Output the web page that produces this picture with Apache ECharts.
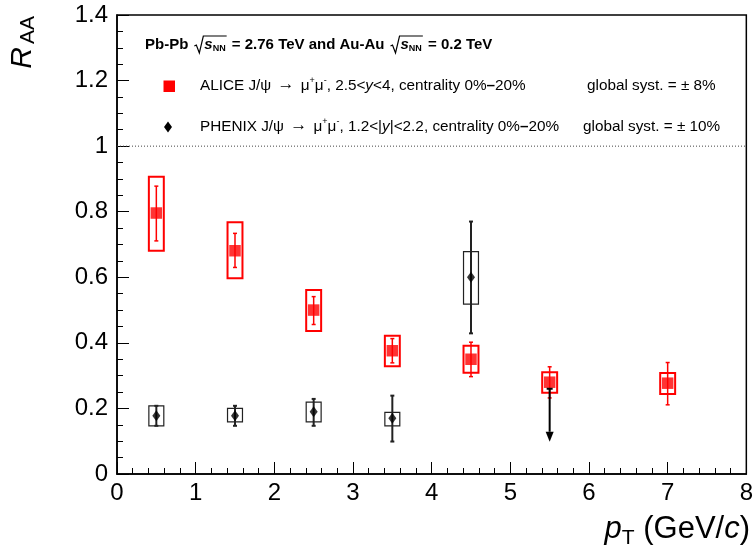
<!DOCTYPE html>
<html><head><meta charset="utf-8">
<script src="https://cdn.jsdelivr.net/npm/echarts@6/dist/echarts.min.js"></script>
<style>html,body{margin:0;padding:0;background:#fff}#c{width:756px;height:554px}</style>
</head><body><div id="c"></div>
<script>
// ---- data ----
const alicePt = [0.5, 1.5, 2.5, 3.5, 4.5, 5.5, 7.0];
const aliceRaa = [0.796, 0.681, 0.500, 0.376, 0.350, 0.280, 0.277];
const aliceStatLow = [0.711, 0.630, 0.456, 0.339, 0.297, 0.232, 0.211];
const aliceStatHigh = [0.878, 0.734, 0.541, 0.413, 0.402, 0.327, 0.340];
const aliceSystLow = [0.681, 0.597, 0.436, 0.329, 0.309, 0.248, 0.244];
const aliceSystHigh = [0.907, 0.768, 0.561, 0.422, 0.391, 0.310, 0.308];

const phenixPt = [0.5, 1.5, 2.5, 3.5, 4.5];
const phenixRaa = [0.178, 0.178, 0.190, 0.170, 0.600];
const phenixStatLow = [0.147, 0.147, 0.147, 0.099, 0.429];
const phenixStatHigh = [0.208, 0.208, 0.229, 0.239, 0.770];
const phenixSystLow = [0.147, 0.159, 0.159, 0.147, 0.518];
const phenixSystHigh = [0.208, 0.200, 0.219, 0.188, 0.678];

const phenixLimitPt = [5.5];
const phenixLimitRaa = [0.26];

const referenceLine = [[0, 1], [8, 1]];
const xTickLabels = ['0', '1', '2', '3', '4', '5', '6', '7', '8'];
const yTickLabels = ['0', '0.2', '0.4', '0.6', '0.8', '1', '1.2', '1.4'];
const systHalfWidth = 0.095;

// ---- helpers ----
const FONT = '"Liberation Sans", Arial, Helvetica, sans-serif';
const mctx = document.createElement('canvas').getContext('2d');
function fontStr(r) { return (r.italic ? 'italic ' : '') + (r.bold ? 'bold ' : '') + r.size + 'px ' + FONT; }
function runsWidth(runs) {
  let w = 0;
  runs.forEach(r => {
    if (r.gap) { w += r.gap; return; }
    if (r.sqrtStart) { w += 10; return; }
    if (r.sqrtEnd) { w += 2; return; }
    mctx.font = fontStr(r); w += mctx.measureText(r.t).width;
  });
  return w;
}
function layoutRuns(x0, cy, runs, out) {
  let x = x0, sq = null;
  runs.forEach(r => {
    if (r.gap) { x += r.gap; return; }
    if (r.sqrtStart) { sq = { x: x }; x += 10; return; }
    if (r.sqrtEnd) {
      const top = cy - 9;
      out.push({ type: 'polyline', silent: true,
        shape: { points: [[sq.x, cy + 1], [sq.x + 2, cy], [sq.x + 5, cy + 8], [sq.x + 9, top], [x + 1, top]] },
        style: { stroke: '#000', lineWidth: 1.2, fill: null } });
      x += 2; return;
    }
    const f = fontStr(r);
    mctx.font = f;
    const w = mctx.measureText(r.t).width;
    out.push({ type: 'text', silent: true, x: x, y: cy + (r.dy || 0),
      style: { text: r.t, font: f, fill: '#000', align: 'left', verticalAlign: 'middle', textAlign: 'left', textVerticalAlign: 'middle' } });
    x += w;
  });
  return x;
}

function errorRenderer(color, boxLW, barLW) {
  return function (params, api) {
    const x = api.value(0);
    const sLo = api.value(2), sHi = api.value(3), lo = api.value(4), hi = api.value(5);
    const a = api.coord([x - systHalfWidth, sHi]);
    const b = api.coord([x + systHalfWidth, sLo]);
    const t = api.coord([x, hi]);
    const d = api.coord([x, lo]);
    return { type: 'group', children: [
      { type: 'rect', shape: { x: a[0], y: a[1], width: b[0] - a[0], height: b[1] - a[1] },
        style: { fill: null, stroke: color, lineWidth: boxLW } },
      { type: 'line', shape: { x1: t[0], y1: t[1], x2: d[0], y2: d[1] }, style: { stroke: color, lineWidth: barLW } },
      { type: 'line', shape: { x1: t[0] - 2, y1: t[1], x2: t[0] + 2, y2: t[1] }, style: { stroke: color, lineWidth: barLW } },
      { type: 'line', shape: { x1: d[0] - 2, y1: d[1], x2: d[0] + 2, y2: d[1] }, style: { stroke: color, lineWidth: barLW } }
    ] };
  };
}
function limitRenderer(params, api) {
  const p = api.coord([api.value(0), api.value(1)]);
  const len = 53, head = 10;
  return { type: 'group', children: [
    { type: 'line', shape: { x1: p[0] - 3, y1: p[1], x2: p[0] + 3, y2: p[1] }, style: { stroke: '#000', lineWidth: 2 } },
    { type: 'line', shape: { x1: p[0], y1: p[1], x2: p[0], y2: p[1] + len - head }, style: { stroke: '#000', lineWidth: 2 } },
    { type: 'polygon', shape: { points: [[p[0] - 4, p[1] + len - head], [p[0] + 4, p[1] + len - head], [p[0], p[1] + len]] },
      style: { fill: '#000' } }
  ] };
}

// ---- text annotations ----
const graphics = [];
const S = 15.3;
layoutRuns(145, 45, [
  { t: 'Pb-Pb', size: 15, bold: true }, { gap: 6 },
  { sqrtStart: true }, { t: 's', size: 15, bold: true, italic: true }, { t: 'NN', size: 9, bold: true, dy: 4 }, { sqrtEnd: true },
  { t: ' = 2.76 TeV and Au-Au', size: 15, bold: true }, { gap: 6 },
  { sqrtStart: true }, { t: 's', size: 15, bold: true, italic: true }, { t: 'NN', size: 9, bold: true, dy: 4 }, { sqrtEnd: true },
  { t: ' = 0.2 TeV', size: 15, bold: true }
], graphics);

layoutRuns(200, 86, [
  { t: 'ALICE J/ψ ', size: S }, { gap: 2 }, { t: '→', size: 17, dy: -2 }, { gap: 2 }, { t: ' μ', size: S }, { t: '+', size: 9, dy: -5 },
  { t: 'μ', size: S }, { t: '-', size: 9, dy: -5 }, { t: ', 2.5<', size: S }, { t: 'y', size: S, italic: true },
  { t: '<4, centrality 0%', size: S }, { t: '–', size: S, bold: true }, { t: '20%', size: S }
], graphics);
layoutRuns(587, 86, [{ t: 'global syst. = ± 8%', size: S }], graphics);

layoutRuns(200, 127, [
  { t: 'PHENIX J/ψ ', size: S }, { gap: 2 }, { t: '→', size: 17, dy: -2 }, { gap: 2 }, { t: ' μ', size: S }, { t: '+', size: 9, dy: -5 },
  { t: 'μ', size: S }, { t: '-', size: 9, dy: -5 }, { t: ', 1.2<|', size: S }, { t: 'y', size: S, italic: true },
  { t: '|<2.2, centrality 0%', size: S }, { t: '–', size: S, bold: true }, { t: '20%', size: S }
], graphics);
layoutRuns(583, 127, [{ t: 'global syst. = ± 10%', size: S }], graphics);

// legend markers
graphics.push({ type: 'rect', silent: true, shape: { x: 163.5, y: 80.5, width: 11.5, height: 11.5 }, style: { fill: '#ff0000' } });
graphics.push({ type: 'polygon', silent: true, shape: { points: [[168, 121.5], [172, 127], [168, 132.5], [164, 127]] }, style: { fill: '#000' } });

// axis titles
graphics.push({ type: 'text', silent: true, x: 23, y: 47, rotation: Math.PI / 2,
  style: { text: 'R', font: 'italic 30px ' + FONT, fill: '#000', align: 'right', verticalAlign: 'middle', textAlign: 'right', textVerticalAlign: 'middle' } });
graphics.push({ type: 'text', silent: true, x: 28, y: 16, rotation: Math.PI / 2,
  style: { text: 'AA', font: '21px ' + FONT, fill: '#000', align: 'right', verticalAlign: 'middle', textAlign: 'right', textVerticalAlign: 'middle' } });

const xTitleRuns = [
  { t: 'p', size: 31, italic: true }, { t: 'T', size: 21, dy: 9 }, { t: ' (GeV/', size: 31 },
  { t: 'c', size: 31, italic: true }, { t: ')', size: 31 }
];
layoutRuns(750 - runsWidth(xTitleRuns), 529, xTitleRuns, graphics);

// ---- chart ----
const chart = echarts.init(document.getElementById('c'), null, { renderer: 'canvas' });
const axisCommon = {
  axisLine: { show: true, lineStyle: { color: '#000', width: 1.5 } },
  axisTick: { show: true, inside: true, length: 12, lineStyle: { color: '#000', width: 1 } },
  minorTick: { show: true, length: 6, lineStyle: { color: '#000', width: 1 } },
  splitLine: { show: false },
  minorSplitLine: { show: false }
};
chart.setOption({
  animation: false,
  backgroundColor: '#fff',
  grid: { left: 117, right: 8, top: 15, bottom: 80, show: true, borderColor: '#000', borderWidth: 1.5, backgroundColor: 'transparent' },
  xAxis: Object.assign({}, axisCommon, {
    type: 'value', min: 0, max: 8, interval: 1,
    minorTick: Object.assign({}, axisCommon.minorTick, { splitNumber: 5 }),
    axisLabel: { show: true, margin: 7, fontSize: 24, color: '#000', fontFamily: FONT,
      formatter: (v, i) => xTickLabels[Math.round(v)] }
  }),
  yAxis: Object.assign({}, axisCommon, {
    type: 'value', min: 0, max: 1.4, interval: 0.2,
    minorTick: Object.assign({}, axisCommon.minorTick, { splitNumber: 4 }),
    axisLabel: { show: true, margin: 9, fontSize: 24, color: '#000', fontFamily: FONT,
      formatter: (v) => yTickLabels[Math.round(v / 0.2)] }
  }),
  graphic: graphics,
  series: [
    { type: 'line', data: referenceLine, symbol: 'none', silent: true,
      lineStyle: { color: '#444', width: 1, type: [1, 2] }, z: 1 },
    { type: 'custom', name: 'PHENIX syst', renderItem: errorRenderer('#222', 1.2, 2),
      data: phenixPt.map((x, i) => [x, phenixRaa[i], phenixSystLow[i], phenixSystHigh[i], phenixStatLow[i], phenixStatHigh[i]]),
      encode: { x: 0, y: 1 }, silent: true, z: 2 },
    { type: 'scatter', name: 'PHENIX', data: phenixPt.map((x, i) => [x, phenixRaa[i]]),
      symbol: 'diamond', symbolSize: [8, 11], itemStyle: { color: '#000' }, silent: true, z: 3 },
    { type: 'custom', name: 'ALICE syst', renderItem: errorRenderer('#ff0000', 2, 1.5),
      data: alicePt.map((x, i) => [x, aliceRaa[i], aliceSystLow[i], aliceSystHigh[i], aliceStatLow[i], aliceStatHigh[i]]),
      encode: { x: 0, y: 1 }, silent: true, z: 4 },
    { type: 'scatter', name: 'ALICE', data: alicePt.map((x, i) => [x, aliceRaa[i]]),
      symbol: 'rect', symbolSize: 11.5, itemStyle: { color: '#ff0000' }, silent: true, z: 5 },
    { type: 'custom', name: 'PHENIX limit', renderItem: limitRenderer,
      data: phenixLimitPt.map((x, i) => [x, phenixLimitRaa[i]]), encode: { x: 0, y: 1 }, silent: true, z: 6 }
  ]
});
</script>
</body></html>
